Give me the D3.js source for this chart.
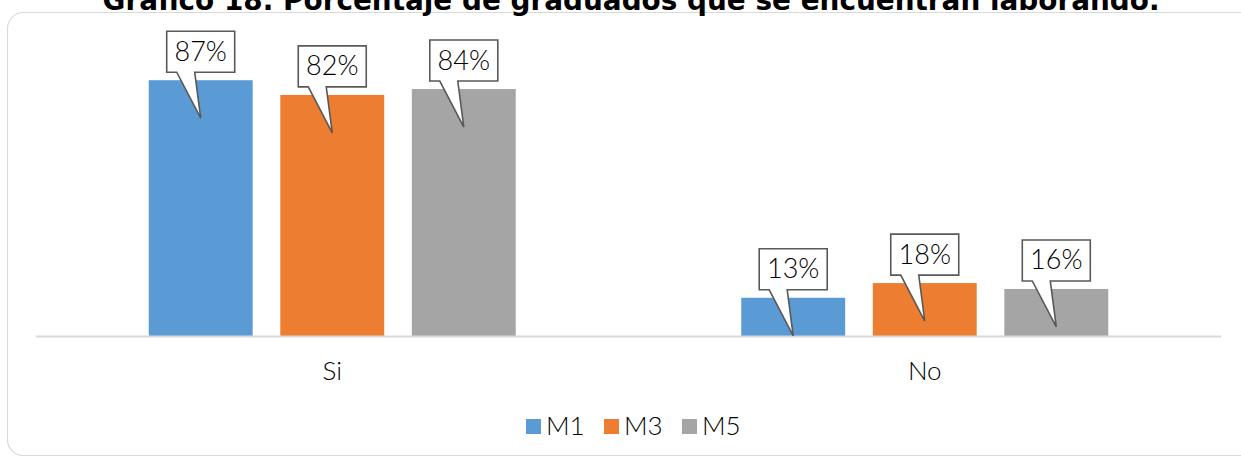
<!DOCTYPE html>
<html>
<head>
<meta charset="utf-8">
<script src="https://cdn.jsdelivr.net/npm/d3@7"></script>
<style>
  body { margin: 0; background: #fff; }
  svg { font-family: "Century Gothic", Lato, "Noto Sans", sans-serif; font-weight: 300; }
</style>
</head>
<body>
<div class="content"></div>
<script>
var titleText = "Gráfico 18. Porcentaje de graduados que se encuentran laborando.";
var categories = ["Si", "No"];
var seriesNames = ["M1", "M3", "M5"];
var seriesColors = ["#5B9BD5", "#ED7D31", "#A5A5A5"];
var valuesM1 = [87, 13];
var valuesM3 = [82, 18];
var valuesM5 = [84, 16];

var fullWidth = 1241, fullHeight = 459;
var margin = {top: 42, right: 20, bottom: 123, left: 36};
var width = fullWidth - margin.left - margin.right;
var height = fullHeight - margin.top - margin.bottom;

var series = [valuesM1, valuesM3, valuesM5];
var plotData = [];
categories.forEach(function(c, i){
    seriesNames.forEach(function(s, j){
        plotData.push({cat: c, series: s, value: series[j][i], color: seriesColors[j]});
    });
});

var svg = d3.select("div.content").append("svg")
    .attr("width", fullWidth)
    .attr("height", fullHeight);

//chart area border
svg.append("rect")
    .attr("x", 7.5).attr("y", 12.5)
    .attr("width", 1250).attr("height", 443)
    .attr("rx", 16).attr("ry", 16)
    .style("fill", "none")
    .style("stroke", "#D9D9D9")
    .style("stroke-width", 1.2);

//title (its top is cut off in the original too)
svg.append("text")
    .attr("x", 631).attr("y", 10)
    .attr("text-anchor", "middle")
    .attr("textLength", 1057)
    .attr("lengthAdjust", "spacingAndGlyphs")
    .style("font-family", "'DejaVu Sans', sans-serif")
    .style("font-weight", "bold")
    .style("font-size", "29px")
    .text(titleText);

var g = svg.append("g")
    .attr("transform", "translate(" + margin.left + "," + margin.top + ")");

var x0 = d3.scaleBand().domain(categories).range([0, width]).paddingInner(0).paddingOuter(0);
var groupWidth = 367;
var x1 = d3.scaleBand().domain(seriesNames).range([0, groupWidth]).paddingInner(0.21).paddingOuter(0);
var y = d3.scaleLinear().domain([0, 100]).range([height, 0]);

function barX(d){ return x0(d.cat) + (x0.bandwidth() - groupWidth) / 2 + x1(d.series); }

//bars
g.selectAll(".bar")
    .data(plotData)
  .enter().append("rect")
    .attr("class", "bar")
    .attr("x", barX)
    .attr("y", function(d){ return y(d.value); })
    .attr("width", x1.bandwidth())
    .attr("height", function(d){ return height - y(d.value); })
    .style("fill", function(d){ return d.color; });

//x-axis line
g.append("line")
    .attr("x1", 0).attr("x2", width)
    .attr("y1", height + 0.5).attr("y2", height + 0.5)
    .style("stroke", "#D9D9D9")
    .style("stroke-width", 2);

//category labels
var xAxis = d3.axisBottom(x0).tickSize(0).tickPadding(26);
var ax = g.append("g")
    .attr("transform", "translate(0," + height + ")")
    .call(xAxis);
ax.select(".domain").remove();
ax.selectAll("text")
    .style("font-family", "'Century Gothic', Lato, sans-serif")
    .style("font-weight", "300")
    .style("font-size", "26px")
    .style("fill", "#000");

//callout labels
var boxW = 68, boxH = 41;
var labels = g.selectAll(".callout")
    .data(plotData)
  .enter().append("g")
    .attr("class", "callout")
    .attr("transform", function(d){
        var cx = barX(d) + x1.bandwidth() / 2;
        return "translate(" + cx + "," + y(d.value) + ")";
    });

labels.append("path")
    .attr("d", function(){
        var l = -boxW / 2, r = boxW / 2, t = -8 - boxH, b = -8;
        return "M" + l + "," + t + "L" + r + "," + t + "L" + r + "," + b +
            "L-6," + b + "L0,38L-24," + b + "L" + l + "," + b + "Z";
    })
    .style("fill", "#fff")
    .style("stroke", "#595959")
    .style("stroke-width", 1.6)
    .style("stroke-linejoin", "miter");

labels.append("text")
    .attr("x", 0)
    .attr("y", -8 - boxH / 2 + 9)
    .attr("text-anchor", "middle")
    .style("font-size", "27px")
    .style("fill", "#000")
    .text(function(d){ return d.value + "%"; });

//legend
var legendX = [526, 604, 682];
var legend = svg.selectAll(".legend")
    .data(seriesNames)
  .enter().append("g")
    .attr("class", "legend")
    .attr("transform", function(d, i){ return "translate(" + legendX[i] + ",419)"; });
legend.append("rect")
    .attr("width", 15).attr("height", 15)
    .style("fill", function(d, i){ return seriesColors[i]; });
legend.append("text")
    .attr("x", 20).attr("y", 16)
    .style("font-size", "26px")
    .style("fill", "#000")
    .text(function(d){ return d; });
</script>
</body>
</html>
